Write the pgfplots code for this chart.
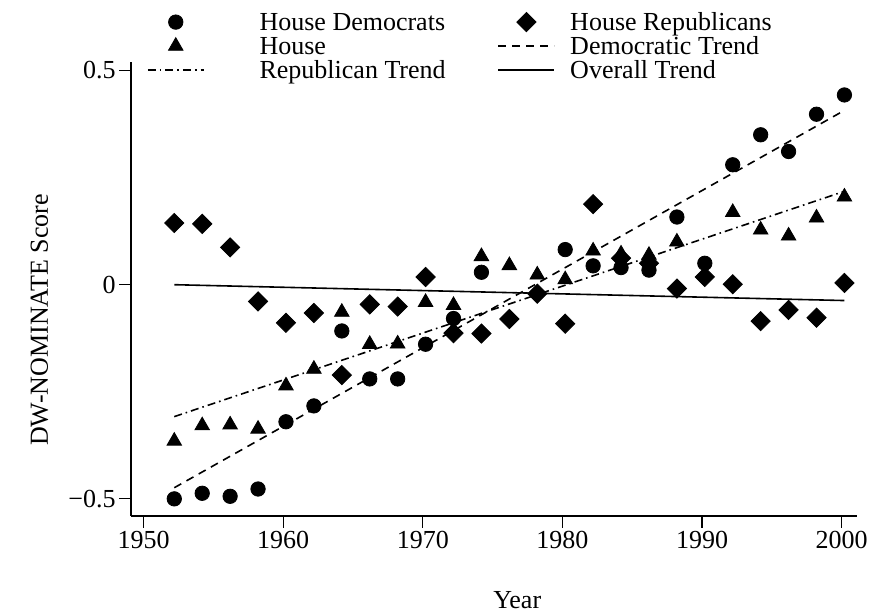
\documentclass[border=0pt]{standalone}
\usepackage{pgfplots}
\pgfplotsset{compat=1.18}
\usepackage{fontspec}
\setmainfont{Liberation Serif}

\pgfplotsset{
  markleg/.style={legend image code/.code={\path[draw=none] (0pt,0pt) -- (28pt,0pt); \draw[##1, only marks] plot coordinates {(14pt,1.5pt)};}},
  lineleg/.style={legend image code/.code={\draw[##1] (0pt,1.5pt) -- (28pt,1.5pt);}},
}

\begin{document}
\fontsize{13}{15}\selectfont
\begin{tikzpicture}
\useasboundingbox (-65.5pt,-48.5pt) rectangle (376.5pt,258pt);
\begin{axis}[
  at={(0pt,0pt)}, anchor=south west,
  scale only axis,
  width=363pt, height=227pt,
  xmin=1949.1, xmax=2001.1,
  ymin=-0.54, ymax=0.52,
  axis lines*=left,
  axis line style={line width=0.7pt},
  tick style={black, line width=0.6pt},
  tick align=outside,
  major tick length=6pt,
  xtick={1950,1960,1970,1980,1990,2000},
  xticklabels={1950,1960,1970,1980,1990,2000},
  ytick={-0.5,0,0.5},
  yticklabels={−0.5,0,0.5},
  xticklabel style={inner sep=1.5pt},
  yticklabel style={inner sep=1.5pt},
  xlabel={Year},
  ylabel={DW-NOMINATE Score},
  xlabel style={at={(axis description cs:0.532,-0.185)}, anchor=center},
  ylabel style={at={(axis description cs:-0.126,0.432)}, anchor=center},
  legend columns=2,
  legend cell align=left,
  legend style={
    draw=none, fill=none, inner sep=0pt, outer sep=0pt,
    at={(axis description cs:0.022,1.109)}, anchor=north west,
    nodes={inner sep=0pt, text height=8.5pt, text depth=3pt},
    row sep=0.5pt,
    /tikz/column 1/.style={column sep=27.5pt},
    /tikz/column 2/.style={column sep=26pt},
    /tikz/column 3/.style={column sep=7.5pt},
  },
]
% House Democrats
\addplot[only marks, mark=*, mark size=3.6pt, black, markleg] table {
1952.2 -0.500
1954.2 -0.487
1956.2 -0.494
1958.2 -0.477
1960.2 -0.320
1962.2 -0.283
1964.2 -0.108
1966.2 -0.220
1968.2 -0.220
1970.2 -0.139
1972.2 -0.079
1974.2 0.029
1980.2 0.082
1982.2 0.044
1984.2 0.040
1986.2 0.034
1988.2 0.158
1990.2 0.050
1992.2 0.280
1994.2 0.350
1996.2 0.311
1998.2 0.398
2000.2 0.443
};
\addlegendentry{House Democrats}
% House Republicans
\addplot[only marks, mark=square*, mark size=3.4pt, mark options={rotate=45}, black, markleg] table {
1952.2 0.144
1954.2 0.142
1956.2 0.087
1958.2 -0.039
1960.2 -0.089
1962.2 -0.066
1964.2 -0.211
1966.2 -0.046
1968.2 -0.051
1970.2 0.018
1972.2 -0.113
1974.2 -0.114
1976.2 -0.080
1978.2 -0.021
1980.2 -0.091
1982.2 0.188
1984.2 0.062
1986.2 0.050
1988.2 -0.009
1990.2 0.018
1992.2 0.001
1994.2 -0.085
1996.2 -0.059
1998.2 -0.077
2000.2 0.004
};
\addlegendentry{House Republicans}
% House
\addplot[only marks, mark=triangle*, mark size=4.2pt, black, markleg] table {
1952.2 -0.365
1954.2 -0.329
1956.2 -0.327
1958.2 -0.337
1960.2 -0.236
1962.2 -0.197
1964.2 -0.064
1966.2 -0.139
1968.2 -0.138
1970.2 -0.041
1972.2 -0.048
1974.2 0.066
1976.2 0.045
1978.2 0.023
1980.2 0.012
1982.2 0.079
1984.2 0.072
1986.2 0.069
1988.2 0.100
1992.2 0.169
1994.2 0.128
1996.2 0.114
1998.2 0.156
2000.2 0.205
};
\addlegendentry{House}
% Democratic Trend
\addplot[black, line width=0.8pt, dash pattern=on 4pt off 3pt, lineleg] table {
1952.2 -0.474
2000.2 0.407
};
\addlegendentry{Democratic Trend}
% Republican Trend
\addplot[black, line width=0.8pt, dash pattern=on 4pt off 2pt on 0.8pt off 2pt, lineleg] table {
1952.2 -0.308
2000.2 0.218
};
\addlegendentry{Republican Trend}
% Overall Trend
\addplot[black, line width=0.8pt, lineleg] table {
1952.2 0.000
2000.2 -0.037
};
\addlegendentry{Overall Trend}
\end{axis}
\end{tikzpicture}
\end{document}
